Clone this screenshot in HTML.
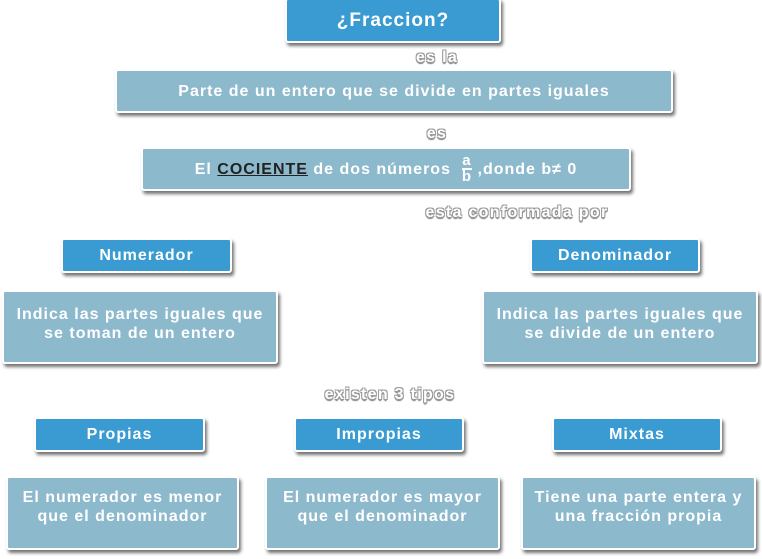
<!DOCTYPE html>
<html><head><meta charset="utf-8"><style>
body{margin:0;width:762px;height:559px;background:#fff;position:relative;overflow:hidden;font-family:"Liberation Sans Narrow","Liberation Sans",sans-serif;}
.b{position:absolute;box-sizing:border-box;border:2px solid #fff;border-radius:3px;box-shadow:2px 3px 3px rgba(0,0,0,0.55);color:#fff;font-weight:bold;display:flex;align-items:center;justify-content:center;text-align:center;letter-spacing:1px;line-height:19px;}
.d{background:#3a9bd2;font-size:16px;}
.l{background:#8db9cd;font-size:16px;}
.tp{align-items:flex-start;}
.t{position:absolute;color:#fff;font-weight:bold;font-size:16px;letter-spacing:1.3px;text-shadow:-1px -1px 0 #999,1px -1px 0 #999,-1px 1px 0 #999,1px 1px 0 #999,0 2px 1px #777;transform:translateX(-50%);white-space:nowrap;font-family:"Liberation Sans",sans-serif;}
u{color:#222;}
</style></head><body>
<div class="b d" style="left:285px;top:-2px;width:216px;height:45px;font-size:19px;">¿Fraccion?</div>
<div class="t" style="left:437px;top:49px;">es la</div>
<div class="b l" style="left:115px;top:69px;width:558px;height:44px;">Parte de un entero que se divide en partes iguales</div>
<div class="t" style="left:437px;top:125px;">es</div>
<div class="b l" style="left:141px;top:147px;width:490px;height:44px;">El&nbsp;<u>COCIENTE</u>&nbsp;de dos números&nbsp;&nbsp;<span style="display:inline-block;line-height:14px;font-size:15px;"><span style="display:block;border-bottom:2px solid #fff;">a</span>b</span>&nbsp;,donde b≠ 0</div>
<div class="t" style="left:517px;top:204px;">esta conformada por</div>
<div class="b d" style="left:61px;top:238px;width:171px;height:35px;">Numerador</div>
<div class="b d" style="left:530px;top:238px;width:170px;height:35px;">Denominador</div>
<div class="b l tp" style="left:2px;top:290px;width:276px;height:74px;padding-top:13px;">Indica las partes iguales que<br>se toman de un entero</div>
<div class="b l tp" style="left:482px;top:290px;width:276px;height:74px;padding-top:13px;">Indica las partes iguales que<br>se divide de un entero</div>
<div class="t" style="left:390px;top:386px;">existen 3 tipos</div>
<div class="b d" style="left:34px;top:417px;width:171px;height:35px;">Propias</div>
<div class="b d" style="left:294px;top:417px;width:170px;height:35px;">Impropias</div>
<div class="b d" style="left:552px;top:417px;width:170px;height:35px;">Mixtas</div>
<div class="b l tp" style="left:6px;top:476px;width:233px;height:74px;padding-top:10px;">El numerador es menor<br>que el denominador</div>
<div class="b l tp" style="left:265px;top:476px;width:235px;height:74px;padding-top:10px;">El numerador es mayor<br>que el denominador</div>
<div class="b l tp" style="left:521px;top:476px;width:235px;height:74px;padding-top:10px;">Tiene una parte entera y<br>una fracción propia</div>
</body></html>
